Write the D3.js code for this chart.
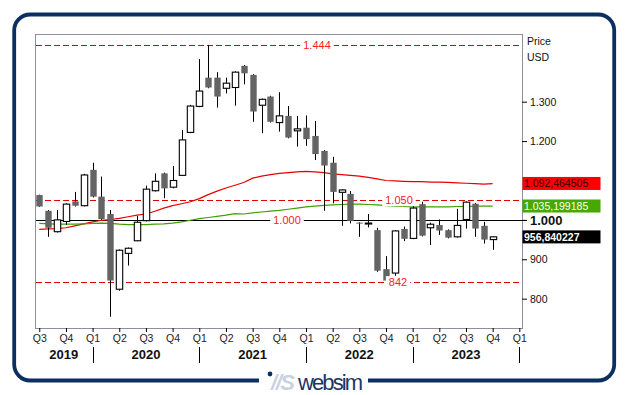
<!DOCTYPE html>
<html>
<head>
<meta charset="utf-8">
<script src="https://cdn.jsdelivr.net/npm/d3@7"></script>
<style>
  body { margin: 0; background: #fff; }
  svg { display: block; font-family: "Liberation Sans", Arial, sans-serif; }
</style>
</head>
<body>
<svg id="chart" width="629" height="395"></svg>
<script>
// monthly candles, Jul 2019 .. Oct 2023
const months = [
  '2019-07','2019-08','2019-09','2019-10','2019-11','2019-12',
  '2020-01','2020-02','2020-03','2020-04','2020-05','2020-06','2020-07','2020-08','2020-09','2020-10','2020-11','2020-12',
  '2021-01','2021-02','2021-03','2021-04','2021-05','2021-06','2021-07','2021-08','2021-09','2021-10','2021-11','2021-12',
  '2022-01','2022-02','2022-03','2022-04','2022-05','2022-06','2022-07','2022-08','2022-09','2022-10','2022-11','2022-12',
  '2023-01','2023-02','2023-03','2023-04','2023-05','2023-06','2023-07','2023-08','2023-09','2023-10'
];
const open  = [1063,1023,970,996,1047,1036, 1127,1059,1015,824,915,947,998,1074,1118,1083,1113,1222,
               1288,1361,1361,1334,1336,1391,1368,1291,1313,1247,1264,1226, 1234,1213,1175,1145,1070,1066,
               993,990,974,875,865,977, 953,1040,980,987,974,957,1001,1041,985,950];
const high  = [1064,1025,1025,1042,1071,1117, 1145,1110,1025,925,930,1010,1087,1118,1120,1137,1228,1292,
               1408,1444,1375,1361,1377,1393,1370,1308,1315,1324,1289,1264, 1265,1251,1177,1160,1078,1073,
               994,1015,980,908,974,983, 1040,1046,993,1001,976,1028,1047,1043,995,958];
const low   = [1033,957,968,987,1034,1034, 1057,1000,754,820,884,946,996,1072,1055,1080,1112,1220,
               1286,1334,1285,1321,1290,1344,1249,1220,1247,1224,1207,1186, 1188,1152,1023,1042,985,991,
               957,981,868,842,858,946, 951,958,936,962,953,955,978,957,940,924];
const close = [1034,980,1000,1040,1036,1114, 1059,1002,846,923,928,994,1078,1098,1080,1100,1203,1289,
               1327,1336,1313,1347,1375,1372,1275,1306,1249,1264,1209,1231, 1205,1167,1138,1071,1076,997,
               991,992,871,846,972,952, 1030,960,989,973,955,986,1045,978,950,957];

// moving averages
const maRed = [976,977,978,980,985,990, 995,999,1001,1004,1008,1012,1015,1022,1030,1036,1041,1046,
               1054,1064,1073,1081,1088,1095,1106,1111,1115,1118,1120,1122, 1123,1122,1120,1117,1115,1113,
               1111,1108,1104,1100,1099,1098, 1097,1097,1096,1096,1095,1094,1093,1092,1091,1092];
const maGreen = [991,990,989,989,989,990, 991,992,991,989,988,988,988,989,990,992,995,999,
                 1003,1006,1009,1012,1016,1015,1018,1020,1022,1024,1027,1030, 1033,1035,1037,1038,1039,1040,
                 1040,1039,1038,1036,1035,1034, 1033,1033,1033,1033,1033,1034,1034,1035,1035,1035];

const levels = [1444, 1050, 842];
const baseLevel = 1000;
const yTicks = [800, 900, 1000, 1200, 1300];
const quarterIdx = d3.range(0, 55, 3);
const quarterLabels = ['Q3','Q4','Q1','Q2','Q3','Q4','Q1','Q2','Q3','Q4','Q1','Q2','Q3','Q4','Q1','Q2','Q3','Q4','Q1'];
const years = ['2019','2020','2021','2022','2023'];
const yearStarts = [6, 18, 30, 42, 54];
const lastValues = [1092.464505, 1035.199185, 956.840227];

const loc = d3.formatLocale({ decimal: ',', thousands: '.', grouping: [3], currency: ['', ''] });
const fmtInt = loc.format(',d');
const fmtLast = loc.format(',.6f');

const svg = d3.select('#chart');
const P = { l: 35, t: 34, r: 522, b: 328 };
const navy = '#0b2f5f';

const x = d3.scaleLinear().domain([-0.48, 54.3]).range([P.l, P.r]);
const y = d3.scaleLinear().domain([725.6, 1471.8]).range([P.b, P.t]);

// outer frame with logo gap
svg.append('rect').attr('x', 14.2).attr('y', 14.5).attr('width', 600).attr('height', 366)
  .attr('rx', 16).attr('fill', 'none').attr('stroke', navy).attr('stroke-width', 3.8);
svg.append('rect').attr('x', 259).attr('y', 375).attr('width', 109).attr('height', 12).attr('fill', '#fff');
svg.append('circle').attr('cx', 270).attr('cy', 374).attr('r', 2.4).attr('fill', navy);
svg.append('text').attr('x', 271).attr('y', 390).attr('font-size', 22).attr('font-weight', 'bold')
  .attr('font-style', 'italic').attr('fill', '#c9d3e0').attr('textLength', 24).text('//S');
svg.append('text').attr('x', 298).attr('y', 390).attr('font-size', 22).attr('fill', '#1b3564')
  .attr('textLength', 65).text('websim');

// plot border
svg.append('rect').attr('x', P.l + 0.5).attr('y', P.t + 0.5).attr('width', P.r - P.l).attr('height', P.b - P.t)
  .attr('fill', 'none').attr('stroke', '#8e8e9e');

// level lines
const lv = svg.append('g');
lv.selectAll('line.lvl').data(levels).join('line').attr('class', 'lvl')
  .attr('x1', P.l + 1).attr('x2', P.r)
  .attr('y1', d => Math.round(y(d)) + 0.5).attr('y2', d => Math.round(y(d)) + 0.5)
  .attr('stroke', '#e00000').attr('stroke-width', 1.2).attr('stroke-dasharray', '6,3');
lv.append('line').attr('x1', P.l + 1).attr('x2', P.r + 5)
  .attr('y1', Math.round(y(baseLevel)) + 0.5).attr('y2', Math.round(y(baseLevel)) + 0.5)
  .attr('stroke', '#000');

// moving averages
const line = d3.line().x((d, i) => x(i)).y(d => y(d));
svg.append('path').datum(maRed).attr('d', line).attr('fill', 'none').attr('stroke', '#e80000').attr('stroke-width', 1.2);
svg.append('path').datum(maGreen).attr('d', line).attr('fill', 'none').attr('stroke', '#3fa000').attr('stroke-width', 1.2);

// candles
const cw = 6.4;
const candles = svg.append('g').selectAll('g').data(months).join('g');
candles.append('line')
  .attr('x1', (d, i) => Math.round(x(i)) + 0.5).attr('x2', (d, i) => Math.round(x(i)) + 0.5)
  .attr('y1', (d, i) => y(high[i])).attr('y2', (d, i) => y(low[i]))
  .attr('stroke', '#000');
candles.append('rect')
  .attr('x', (d, i) => Math.round(x(i)) + 0.5 - cw / 2)
  .attr('width', cw)
  .attr('y', (d, i) => y(Math.max(open[i], close[i])))
  .attr('height', (d, i) => Math.max(1, Math.abs(y(open[i]) - y(close[i]))))
  .attr('fill', (d, i) => close[i] >= open[i] ? '#fff' : '#646464')
  .attr('stroke', (d, i) => close[i] >= open[i] ? '#000' : 'none')
  .attr('stroke-width', 1.1);

// level labels with white knockout
const lvlLabels = [
  { v: 1444, cx: 317 }, { v: 1050, cx: 399 }, { v: 842, cx: 398 }, { v: 1000, cx: 287 }
];
lvlLabels.forEach(o => {
  const g = svg.append('g');
  const t = g.append('text').attr('x', o.cx).attr('y', y(o.v) + 4).attr('text-anchor', 'middle')
    .attr('font-size', 11).attr('fill', '#ff1a1a').text(fmtInt(o.v));
  const bb = t.node().getBBox();
  g.insert('rect', 'text').attr('x', bb.x - 3).attr('y', bb.y).attr('width', bb.width + 6)
    .attr('height', bb.height).attr('fill', '#fff');
});

// y axis
const yAxis = svg.append('g').attr('transform', `translate(${P.r},0)`)
  .call(d3.axisRight(y).tickValues(yTicks).tickSize(5).tickPadding(3).tickFormat(fmtInt));
yAxis.select('.domain').remove();
yAxis.selectAll('text').attr('font-family', null).attr('font-size', 10.5).attr('fill', '#111');
yAxis.selectAll('.tick').filter(d => d === 1000).select('text')
  .attr('font-weight', 'bold').attr('font-size', 13);

svg.append('text').attr('x', 527).attr('y', 45).attr('font-size', 10.5).attr('fill', '#111').text('Price');
svg.append('text').attr('x', 527).attr('y', 61).attr('font-size', 10.5).attr('fill', '#111').text('USD');

// last value boxes
const boxes = [
  { fill: '#ff0000', txt: '#2a0000', bold: false },
  { fill: '#46a800', txt: '#fff', bold: false },
  { fill: '#000', txt: '#fff', bold: true }
];
lastValues.forEach((v, i) => {
  const yc = y(v);
  svg.append('rect').attr('x', P.r + 0.5).attr('y', yc - 6.5).attr('width', 78).attr('height', 13)
    .attr('fill', boxes[i].fill);
  svg.append('text').attr('x', P.r + 2).attr('y', yc + 4).attr('font-size', 10.5)
    .attr('font-weight', boxes[i].bold ? 'bold' : 'normal').attr('fill', boxes[i].txt).text(fmtLast(v));
});

// x axis
const xAxis = svg.append('g').attr('transform', `translate(0,${P.b})`)
  .call(d3.axisBottom(x).tickValues(quarterIdx).tickSize(4).tickPadding(3)
    .tickFormat((d, i) => quarterLabels[i]));
xAxis.select('.domain').remove();
xAxis.selectAll('text').attr('font-family', null).attr('font-size', 10.5).attr('fill', '#222');

svg.append('g').selectAll('line').data(yearStarts).join('line')
  .attr('x1', d => Math.round(x(d)) + 0.5).attr('x2', d => Math.round(x(d)) + 0.5)
  .attr('y1', 347).attr('y2', 363).attr('stroke', '#000');

const yearBounds = [P.l].concat(yearStarts.map(d => x(d)));
svg.append('g').selectAll('text').data(years).join('text')
  .attr('x', (d, i) => (yearBounds[i] + yearBounds[i + 1]) / 2)
  .attr('y', 359).attr('text-anchor', 'middle')
  .attr('font-size', 13).attr('font-weight', 'bold').attr('fill', '#111').text(d => d);
</script>
</body>
</html>
